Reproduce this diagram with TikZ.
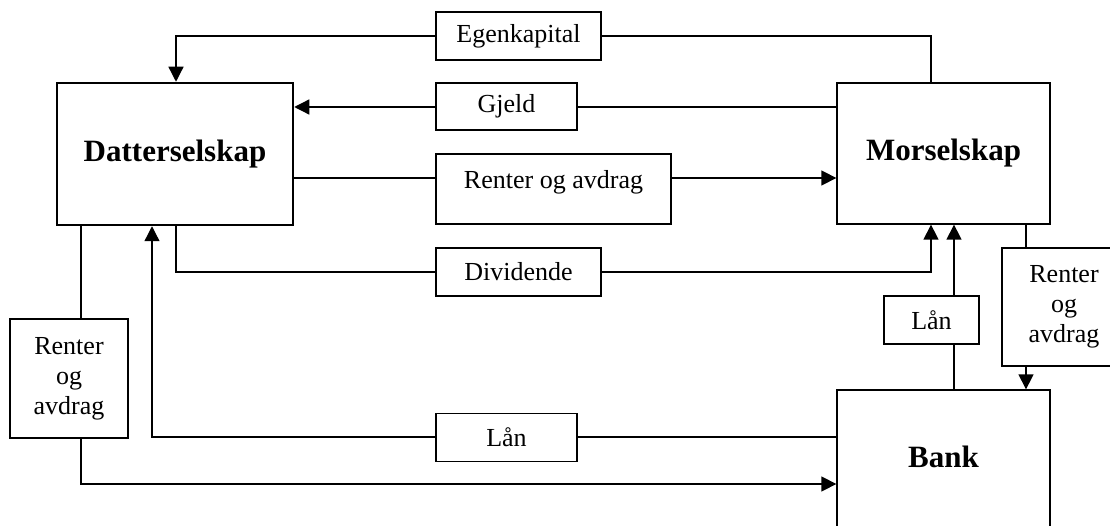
\documentclass[tikz,border=0pt]{standalone}
\usepackage{fontspec}
\setmainfont{Liberation Serif}
\usetikzlibrary{arrows.meta}
\begin{document}
\begin{tikzpicture}[x=1pt,y=-1pt,
  every node/.style={draw, line width=1.3pt, inner sep=0pt, align=center,
    font=\fontsize{26}{30}\selectfont},
  bigbox/.style={font=\fontsize{31}{36}\selectfont\bfseries},
  conn/.style={line width=1.3pt},
  arr/.style={conn, -{Triangle[length=15pt,width=15pt]}}]
\useasboundingbox (0,0) rectangle (1110,526);
\clip (0,0) rectangle (1110,526);
% main boxes
\node[bigbox, line width=2.5pt, minimum width=236, minimum height=142] (dat) at (175,154) {Datterselskap};
\node[bigbox, minimum width=213, minimum height=141] (mor) at (943.5,153.5) {Morselskap};
\node[bigbox, minimum width=213, minimum height=150, text height=21pt, text depth=16pt] (bank) at (943.5,465) {Bank};
% label boxes
\node[minimum width=165, minimum height=48] (egen) at (518.5,36) {Egenkapital};
\node[minimum width=141, minimum height=47] (gjeld) at (506.5,106.5) {Gjeld};
\node[minimum width=235, minimum height=70, text height=18pt, text depth=18pt] (rog) at (553.5,189) {Renter og avdrag};
\node[minimum width=165, minimum height=48] (div) at (518.5,272) {Dividende};
\node[minimum width=141, minimum height=48] (lanB) at (506.5,437.5) {Lån};
\node[minimum width=95, minimum height=48] (lanR) at (931.5,320) {Lån};
\node[minimum width=124, minimum height=118] (rogR) at (1064,307) {Renter\\og\\avdrag};
\node[minimum width=118, minimum height=119] (rogL) at (69,378.5) {Renter\\og\\avdrag};
% helper coordinates
\coordinate (xA) at (931,0);
\coordinate (xB) at (176,0);
\coordinate (xC) at (954,0);
\coordinate (xD) at (1026,0);
\coordinate (xE) at (81,0);
\coordinate (xF) at (152,0);
\coordinate (yA) at (0,107);
\coordinate (yB) at (0,178);
\coordinate (yD) at (0,484);
\coordinate (yE) at (0,437);
% Egenkapital
\draw[conn] (mor.north -| xA) |- (egen.east);
\draw[arr] (egen.west) -| (dat.north -| xB);
% Gjeld
\draw[conn] (mor.west |- yA) -- (gjeld.east |- yA);
\draw[arr] (gjeld.west |- yA) -- (dat.east |- yA);
% Renter og avdrag (middle)
\draw[conn] (dat.east |- yB) -- (rog.west |- yB);
\draw[arr] (rog.east |- yB) -- (mor.west |- yB);
% Dividende
\draw[conn] (dat.south -| xB) |- (div.west);
\draw[arr] (div.east) -| (mor.south -| xA);
% Lån right
\draw[conn] (bank.north -| xC) -- (lanR.south -| xC);
\draw[arr] (lanR.north -| xC) -- (mor.south -| xC);
% Renter og avdrag right
\draw[conn] (mor.south -| xD) -- (rogR.north -| xD);
\draw[arr] (rogR.south -| xD) -- (bank.north -| xD);
% Renter og avdrag left
\draw[conn] (dat.south -| xE) -- (rogL.north -| xE);
\draw[arr] (rogL.south -| xE) |- (bank.west |- yD);
% Lån bottom
\draw[conn] (bank.west |- yE) -- (lanB.east |- yE);
\draw[arr] (lanB.west |- yE) -| (dat.south -| xF);
\end{tikzpicture}
\end{document}
